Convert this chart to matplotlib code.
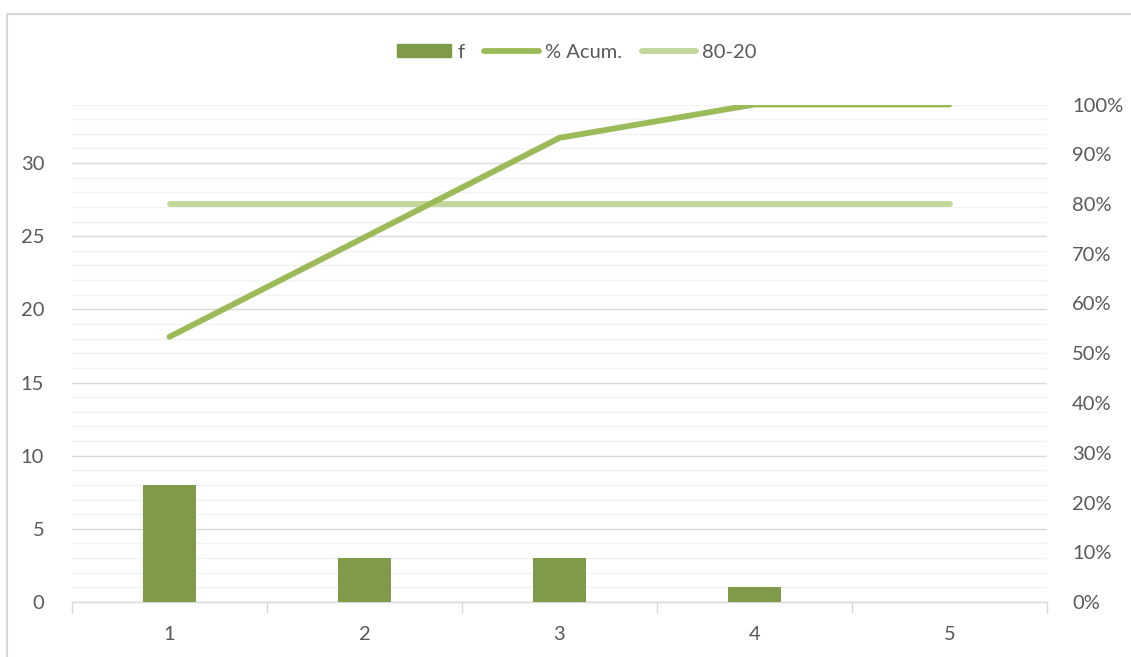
import matplotlib.pyplot as plt
from matplotlib.patches import Rectangle
from matplotlib.lines import Line2D
from matplotlib.ticker import MultipleLocator, FuncFormatter

plt.rcParams['font.family'] = ['Lato', 'DejaVu Sans']

# data
categories = [1, 2, 3, 4, 5]
f = [8, 3, 3, 1, 0]
acum = [0.533, 0.733, 0.933, 1.0, 1.0]
pareto = [0.8, 0.8, 0.8, 0.8, 0.8]

bar_color = '#7F9A48'
acum_color = '#9BBB59'
pareto_color = '#C3D69B'
text_color = '#595959'
fs = 14.5

fig = plt.figure(figsize=(11.31, 6.57), dpi=100)
# chart border
fig.patches.append(Rectangle((7 / 1131, -0.1), 1.2, 1.1 - 14 / 657, transform=fig.transFigure,
                             fill=False, edgecolor='#D9D9D9', linewidth=1.5))

ax = fig.add_axes([72 / 1131, 55 / 657, 975 / 1131, 497.5 / 657])
ax.bar(categories, f, width=0.27, color=bar_color, zorder=3)
ax.set_xlim(0.5, 5.5)
ax.set_ylim(0, 34)
ax.yaxis.set_major_locator(MultipleLocator(5))
ax.yaxis.set_minor_locator(MultipleLocator(1))
ax.grid(which='major', axis='y', color='#D9D9D9', linewidth=1, zorder=0)
ax.grid(which='minor', axis='y', color='#F2F2F2', linewidth=1, zorder=0)
ax.set_axisbelow(True)
for s in ['left', 'right', 'top']:
    ax.spines[s].set_visible(False)
ax.spines['bottom'].set_color('#D9D9D9')
ax.spines['bottom'].set_linewidth(1)
ax.tick_params(axis='y', which='both', length=0, labelsize=fs, labelcolor=text_color, pad=20)
ax.set_xticks(categories)
ax.set_xticklabels([str(c) for c in categories])
ax.tick_params(axis='x', length=0, labelsize=fs, labelcolor=text_color, pad=17)
ax.set_xticks([0.5, 1.5, 2.5, 3.5, 4.5, 5.5], minor=True)
ax.tick_params(axis='x', which='minor', length=8, color='#D9D9D9', width=1)

ax2 = ax.twinx()
ax2.plot(categories, pareto, color=pareto_color, linewidth=4.2, solid_capstyle='round', zorder=4)
ax2.plot(categories, acum, color=acum_color, linewidth=4.2, solid_capstyle='round', zorder=5)
ax2.set_ylim(0, 1)
ax2.yaxis.set_major_locator(MultipleLocator(0.1))
ax2.yaxis.set_major_formatter(FuncFormatter(lambda v, p: f'{v * 100:.0f}%'))
for s in ['left', 'right', 'top', 'bottom']:
    ax2.spines[s].set_visible(False)
ax2.tick_params(axis='y', length=0, labelsize=fs, labelcolor=text_color, pad=18)

handles = [
    Rectangle((0, 0), 1, 1, color=bar_color),
    Line2D([0], [0], color=acum_color, linewidth=4.2, solid_capstyle='round'),
    Line2D([0], [0], color=pareto_color, linewidth=4.2, solid_capstyle='round'),
]
fig.legend(handles, ['f', '% Acum.', '80-20'], loc='center', bbox_to_anchor=(0.51, 1 - 52 / 657),
           ncol=3, frameon=False, fontsize=fs, labelcolor=text_color,
           handlelength=2.7, handletextpad=0.3, columnspacing=1.0, handleheight=0.6)

fig.savefig('out.png', dpi=100)
